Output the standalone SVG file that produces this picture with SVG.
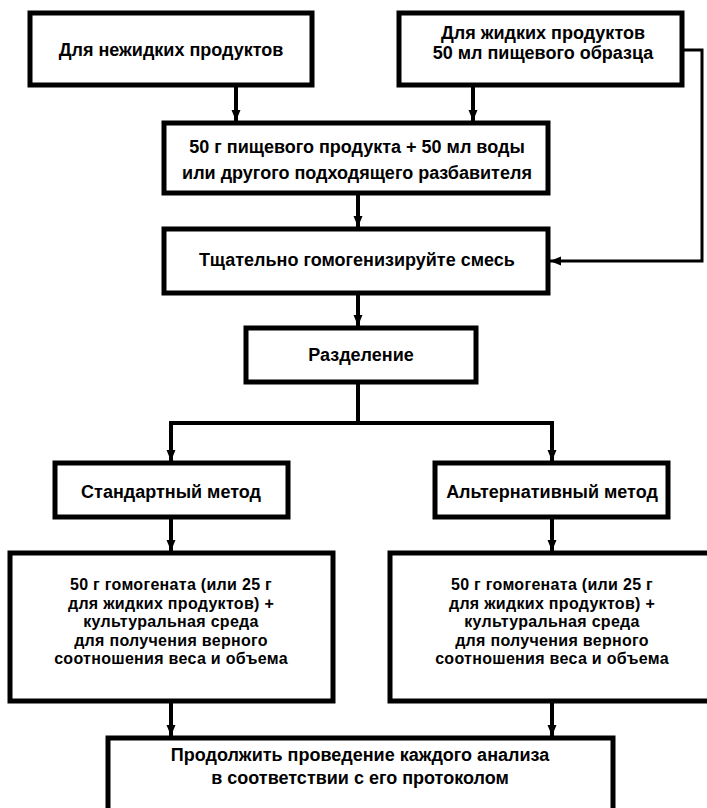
<svg xmlns="http://www.w3.org/2000/svg" width="707" height="808" viewBox="0 0 707 808">
<style>
.box{fill:#fff;stroke:#000;stroke-width:5}
.t{font-family:"Liberation Sans",Arial,sans-serif;font-weight:bold;font-size:18px;fill:#000;text-anchor:middle}
.s{font-size:16px;letter-spacing:0.3px}
.c{fill:none;stroke:#000;stroke-width:4}
.f{fill:none;stroke:#000;stroke-width:3}
</style>
<defs>
<marker id="ah" markerUnits="userSpaceOnUse" markerWidth="12" markerHeight="12" viewBox="0 0 12 12" refX="11" refY="6" orient="auto">
<path d="M0,1.5 L11,6 L0,10.5 Z" fill="#000"/>
</marker>
</defs>
<rect width="707" height="808" fill="#fff"/>
<g id="connectors">
<path class="c" d="M236,85 V121" marker-end="url(#ah)"/>
<path class="c" d="M473,85 V121" marker-end="url(#ah)"/>
<path class="c" d="M358,193 V227" marker-end="url(#ah)"/>
<path class="c" d="M358,293 V326" marker-end="url(#ah)"/>
<path class="c" d="M358,382 V423"/>
<path class="c" d="M169,423 H554"/>
<path class="c" d="M171,423 V461" marker-end="url(#ah)"/>
<path class="c" d="M552,423 V461" marker-end="url(#ah)"/>
<path class="c" d="M171,517 V551" marker-end="url(#ah)"/>
<path class="c" d="M552,517 V551" marker-end="url(#ah)"/>
<path class="c" d="M171,701 V736" marker-end="url(#ah)"/>
<path class="c" d="M552,701 V736" marker-end="url(#ah)"/>
<path class="f" d="M682,50 H702 V261 H550" marker-end="url(#ah)"/>
</g>
<g id="n1"><rect class="box" x="30" y="13" width="282" height="72"/>
<text class="t" x="171" y="56">Для нежидких продуктов</text></g>
<g id="n2"><rect class="box" x="399" y="13" width="283" height="72"/>
<text class="t" x="543" y="39">Для жидких продуктов</text>
<text class="t" x="543" y="59">50 мл пищевого образца</text></g>
<g id="n3"><rect class="box" x="164" y="123" width="384" height="70"/>
<text class="t" x="357" y="153">50 г пищевого продукта + 50 мл воды</text>
<text class="t" x="357" y="179">или другого подходящего разбавителя</text></g>
<g id="n4"><rect class="box" x="164" y="229" width="384" height="64"/>
<text class="t" x="357" y="266">Тщательно гомогенизируйте смесь</text></g>
<g id="n5"><rect class="box" x="246" y="328" width="230" height="54"/>
<text class="t" x="361" y="361">Разделение</text></g>
<g id="n6"><rect class="box" x="55" y="463" width="233" height="54"/>
<text class="t" x="171" y="498">Стандартный метод</text></g>
<g id="n7"><rect class="box" x="435" y="463" width="233" height="54"/>
<text class="t" x="552" y="498">Альтернативный метод</text></g>
<g id="n8"><rect class="box" x="10" y="553" width="323" height="148"/>
<text class="t s" x="171" y="590">50 г гомогената (или 25 г</text>
<text class="t s" x="171" y="608.5">для жидких продуктов) +</text>
<text class="t s" x="171" y="627">культуральная среда</text>
<text class="t s" x="171" y="645.5">для получения верного</text>
<text class="t s" x="171" y="664">соотношения веса и объема</text></g>
<g id="n9"><rect class="box" x="390" y="553" width="323" height="148"/>
<text class="t s" x="552" y="590">50 г гомогената (или 25 г</text>
<text class="t s" x="552" y="608.5">для жидких продуктов) +</text>
<text class="t s" x="552" y="627">культуральная среда</text>
<text class="t s" x="552" y="645.5">для получения верного</text>
<text class="t s" x="552" y="664">соотношения веса и объема</text></g>
<g id="n10"><rect class="box" x="108" y="738" width="505" height="90"/>
<text class="t" x="360" y="761">Продолжить проведение каждого анализа</text>
<text class="t" x="360" y="784">в соответствии с его протоколом</text></g>
</svg>
